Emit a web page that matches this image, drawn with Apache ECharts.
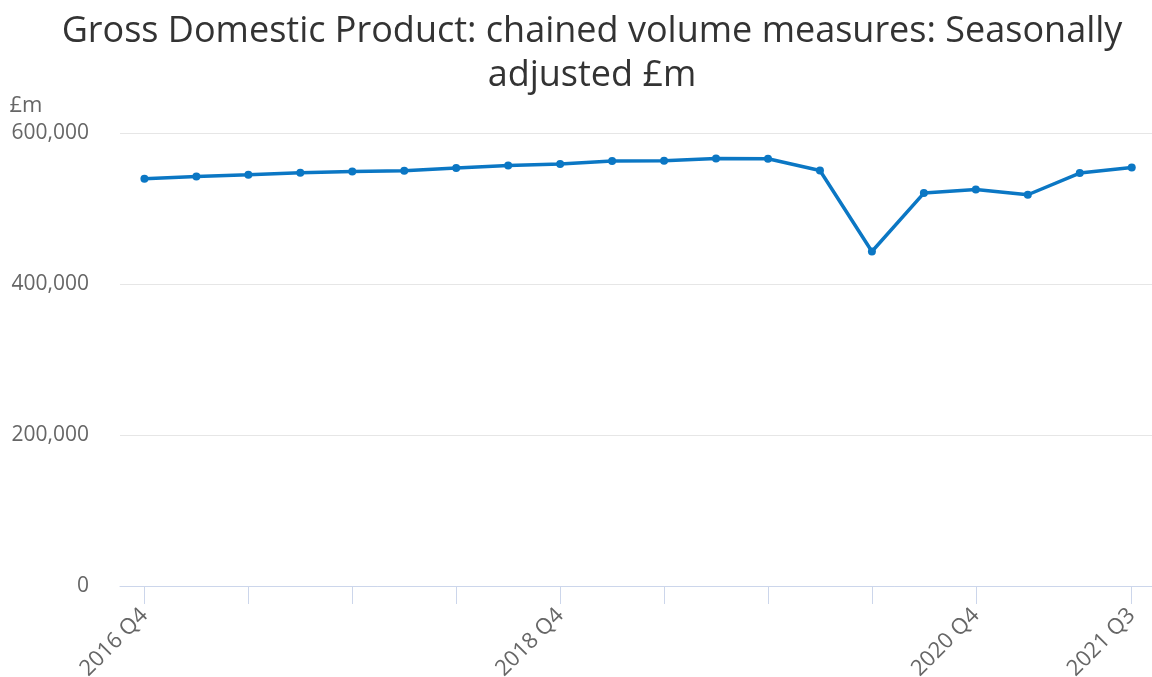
<!DOCTYPE html>
<html>
<head>
<meta charset="utf-8">
<script src="https://cdn.jsdelivr.net/npm/echarts@6/dist/echarts.min.js"></script>
<style>
html,body{margin:0;padding:0;background:#fff;}
#chart{width:1152px;height:677px;}
</style>
</head>
<body>
<div id="chart"></div>
<script>
const titleText = 'Gross Domestic Product: chained volume measures: Seasonally\nadjusted £m';
const yAxisName = '£m';
const categories = ['2016 Q4','2017 Q1','2017 Q2','2017 Q3','2017 Q4','2018 Q1','2018 Q2','2018 Q3','2018 Q4','2019 Q1','2019 Q2','2019 Q3','2019 Q4','2020 Q1','2020 Q2','2020 Q3','2020 Q4','2021 Q1','2021 Q2','2021 Q3'];
const gdp = [539400, 542400, 544700, 547300, 549100, 550000, 553600, 557000, 558900, 562900, 563200, 566300, 566000, 550400, 443000, 520400, 525200, 518200, 547000, 554400];
const tickIndices = [0, 2, 4, 6, 8, 10, 12, 14, 16, 19];
const labelIndices = [0, 8, 16, 19];

const chart = echarts.init(document.getElementById('chart'), null, {renderer: 'canvas'});
const fontFamily = '"Open Sans", sans-serif';
chart.setOption({
  animation: false,
  backgroundColor: '#ffffff',
  title: {
    text: titleText,
    left: 587,
    textAlign: 'center',
    top: 5,
    textStyle: {fontFamily: fontFamily, fontSize: 36, fontWeight: 'normal', color: '#333333', lineHeight: 44}
  },
  grid: {left: 120, right: 0, top: 133, bottom: 91, containLabel: false, outerBoundsMode: 'none'},
  xAxis: {
    type: 'value',
    min: -0.47,
    max: 19.39,
    axisLine: {show: true, lineStyle: {color: '#ccd6eb', width: 1}},
    axisTick: {show: true, length: 18, customValues: tickIndices, lineStyle: {color: '#ccd6eb', width: 1}},
    axisLabel: {
      customValues: labelIndices,
      rotate: 45,
      margin: 26,
      fontFamily: fontFamily,
      fontSize: 22,
      color: '#666666',
      formatter: v => categories[Math.round(v)] || ''
    },
    splitLine: {show: false}
  },
  yAxis: {
    type: 'value',
    min: 0,
    max: 600000,
    interval: 200000,
    name: yAxisName,
    nameLocation: 'end',
    nameGap: 16,
    nameTextStyle: {fontFamily: fontFamily, fontSize: 22, color: '#666666', align: 'right', padding: [0, 102, 0, 0]},
    axisLine: {show: false},
    axisTick: {show: false},
    axisLabel: {
      margin: 31,
      fontFamily: fontFamily,
      fontSize: 21,
      color: '#666666',
      formatter: v => v.toLocaleString('en-GB')
    },
    splitLine: {show: true, lineStyle: {color: '#e6e6e6', width: 1}}
  },
  series: [{
    type: 'line',
    data: gdp.map((v, i) => [i, v]),
    symbol: 'circle',
    symbolSize: 8,
    lineStyle: {color: '#0b77c4', width: 3.5},
    itemStyle: {color: '#0b77c4'}
  }]
});
</script>
</body>
</html>
